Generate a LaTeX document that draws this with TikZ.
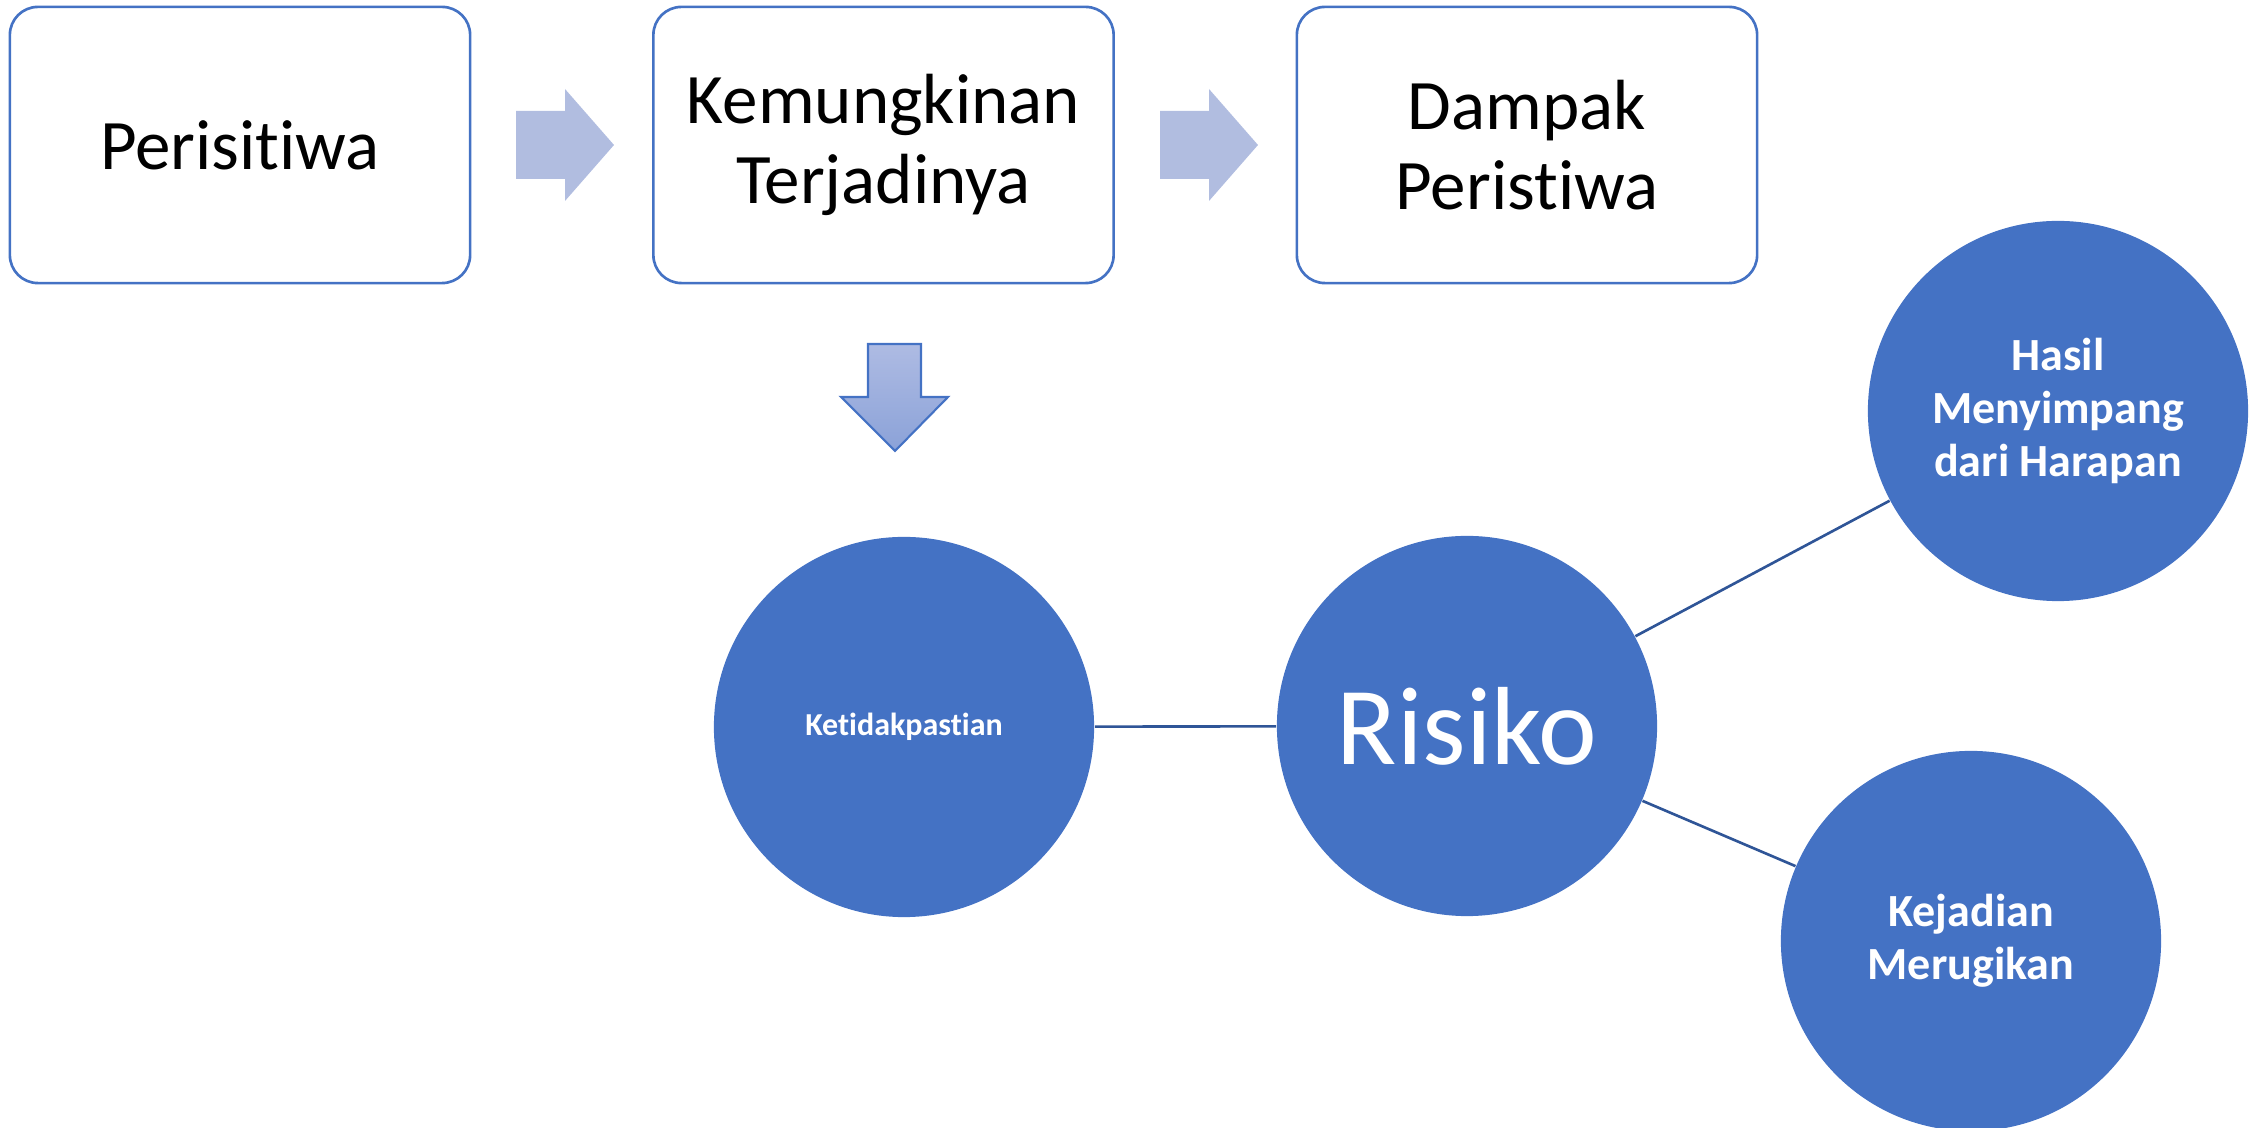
\documentclass[tikz,border=0pt]{standalone}
\usepackage{fontspec}
\setmainfont{Carlito}[Ligatures={NoCommon,NoContextual},Contextuals=NoAlternate]
\definecolor{accent}{HTML}{4472C4}
\definecolor{linkc}{HTML}{2F5597}
\definecolor{arrowfill}{HTML}{B1BDE0}
\definecolor{downtop}{HTML}{AEBBE3}
\definecolor{downbot}{HTML}{8BA2D8}
\begin{document}
\begin{tikzpicture}[x=0.01cm,y=-0.01cm,
  stepbox/.style={draw=accent,line width=0.75pt,rounded corners=0.28cm,fill=white,
    minimum width=4.6cm,minimum height=2.76cm,align=center,inner sep=0pt,
    font=\fontsize{20.2pt}{22.8pt}\selectfont},
  bubble/.style={circle,fill=accent,minimum size=3.8cm,inner sep=0pt,text=white,align=center},
  smalltext/.style={font=\bfseries\fontsize{9.1pt}{11pt}\selectfont},
  bigtext/.style={font=\fontsize{31.6pt}{36pt}\selectfont},
  midtext/.style={font=\bfseries\fontsize{13.1pt}{15.2pt}\selectfont},
  link/.style={draw=linkc,line width=0.75pt},
  flow/.style={fill=arrowfill},
  downflow/.style={draw=accent,line width=0.6pt,top color=downtop,bottom color=downbot}]
\useasboundingbox (0,0) rectangle (2253,1128);

% top row boxes
\node[stepbox] (b1) at (240,145) {Perisitiwa};
\node[stepbox] (b2) at (883.5,145) {Kemungkinan\\Terjadinya};
\node[stepbox] (b3) at (1527,145) {Dampak\\Peristiwa};

% block arrows
\fill[flow] (516,111) -- (565,111) -- (565,89) -- (614,145) -- (565,201) -- (565,179) -- (516,179) -- cycle;
\fill[flow] (1160,111) -- (1209,111) -- (1209,89) -- (1258,145) -- (1209,201) -- (1209,179) -- (1160,179) -- cycle;
\path[downflow] (868,344) -- (921,344) -- (921,397) -- (948,397) -- (895,451) -- (841,397) -- (868,397) -- cycle;

% circles
\node[bubble,smalltext] (unc) at (904,727) {Ketidakpastian};
\node[bubble,bigtext] (risk) at (1467,726) {Risiko};
\node[bubble,midtext] (dev) at (2058,411) {Hasil\\Menyimpang\\dari Harapan};
\node[bubble,midtext] (loss) at (1971,941) {Kejadian\\Merugikan};

% connectors
\draw[link] (unc) -- (risk);
\draw[link] (risk) -- (dev);
\draw[link] (risk) -- (loss);
\end{tikzpicture}
\end{document}
